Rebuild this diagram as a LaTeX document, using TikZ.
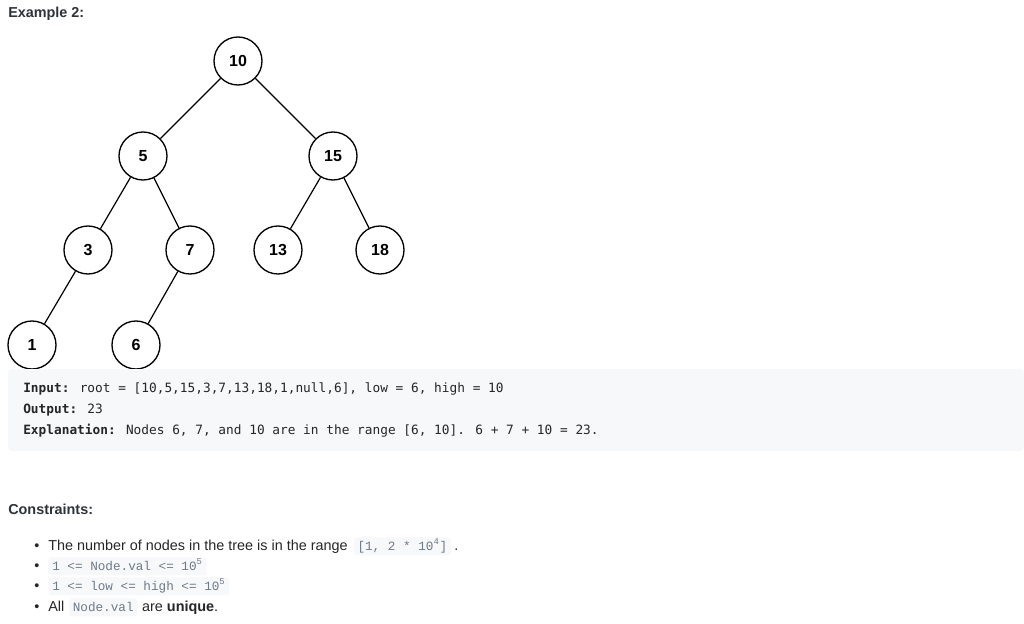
\documentclass[tikz,border=0pt]{standalone}
\usepackage{fontspec}
\setmainfont{Liberation Sans}
\newfontfamily\inputmono{DejaVu Sans Mono}
\newfontfamily\codemono{Liberation Mono}
\usepackage{xcolor}
\definecolor{lcdark}{RGB}{38,38,38}
\definecolor{lctitle}{RGB}{46,51,56}
\definecolor{lcboxbg}{RGB}{247,248,250}
\definecolor{lccode}{RGB}{110,122,135}
\usepackage{tikz}
\usetikzlibrary{positioning}

\tikzset{
  treenode/.style={draw=black, line width=1pt, circle, minimum size=36pt, inner sep=0pt, font=\fontsize{12}{14}\selectfont\bfseries},
  treeedge/.style={line width=0.9pt},
  prose/.style={anchor=base west, inner sep=0pt, text=lcdark, font=\fontsize{10.8}{12}\selectfont},
  iotext/.style={anchor=base west, inner sep=0pt, text=lcdark, font=\inputmono\fontsize{9.6}{11}\selectfont},
  codebox/.style={anchor=base west, fill=lcboxbg, rounded corners=2.5pt, inner xsep=3pt, inner ysep=0pt, text height=9.5pt, text depth=4pt, text=lccode, font=\codemono\fontsize{9.5}{11}\selectfont},
}

\begin{document}
\begin{tikzpicture}[x=0.75pt, y=-0.75pt]
  \useasboundingbox (0,0) rectangle (1024,624);

  \node[prose, font=\fontsize{10.8}{12}\selectfont\bfseries, text=lctitle] (title) at (8,18) {Example 2:};

  % tree
  \node[treenode] (n10) at (238,61) {10};
  \node[treenode] (n5) at (143,156) {5};
  \node[treenode] (n15) at (333,156) {15};
  \node[treenode] (n3) at (88,250) {3};
  \node[treenode] (n7) at (190,250) {7};
  \node[treenode] (n13) at (278,250) {13};
  \node[treenode] (n18) at (380,250) {18};
  \node[treenode] (n1) at (32,345) {1};
  \node[treenode] (n6) at (136,345) {6};
  \draw[treeedge] (n10) -- (n5);
  \draw[treeedge] (n10) -- (n15);
  \draw[treeedge] (n5) -- (n3);
  \draw[treeedge] (n5) -- (n7);
  \draw[treeedge] (n15) -- (n13);
  \draw[treeedge] (n15) -- (n18);
  \draw[treeedge] (n3) -- (n1);
  \draw[treeedge] (n7) -- (n6);

  % example box
  \fill[lcboxbg, rounded corners=3pt] (8,369) rectangle (1024,451);
  \node[iotext] (input) at (23,392) {\textbf{Input:} root = [10,5,15,3,7,13,18,1,null,6], low = 6, high = 10};
  \node[iotext] (output) at (23,413) {\textbf{Output:} 23};
  \node[iotext] (expl) at (23,434) {\textbf{Explanation:} Nodes 6, 7, and 10 are in the range [6, 10]. 6 + 7 + 10 = 23.};

  % constraints
  \node[prose, font=\fontsize{10.8}{12}\selectfont\bfseries, text=lctitle] (cons) at (8,514) {Constraints:};

  \node[prose] (b1) at (34,550) {\textbullet};
  \node[prose] (t1) at (48,550) {The number of nodes in the tree is in the range};
  \node[codebox] (c1) at ([xshift=4pt]t1.base east) {[1, 2 * 10\textsuperscript{4}]};
  \node[prose] (d1) at ([xshift=2pt]c1.base east) {.};

  \node[prose] (b2) at (34,570) {\textbullet};
  \node[codebox] (c2) at (48,570) {1 <= Node.val <= 10\textsuperscript{5}};

  \node[prose] (b3) at (34,590) {\textbullet};
  \node[codebox] (c3) at (48,590) {1 <= low <= high <= 10\textsuperscript{5}};

  \node[prose] (b4) at (34,611) {\textbullet};
  \node[prose] (t4) at (48,611) {All};
  \node[codebox] (c4) at ([xshift=3pt]t4.base east) {Node.val};
  \node[prose] (u4) at ([xshift=3pt]c4.base east) {are \textbf{unique}.};
\end{tikzpicture}
\end{document}
